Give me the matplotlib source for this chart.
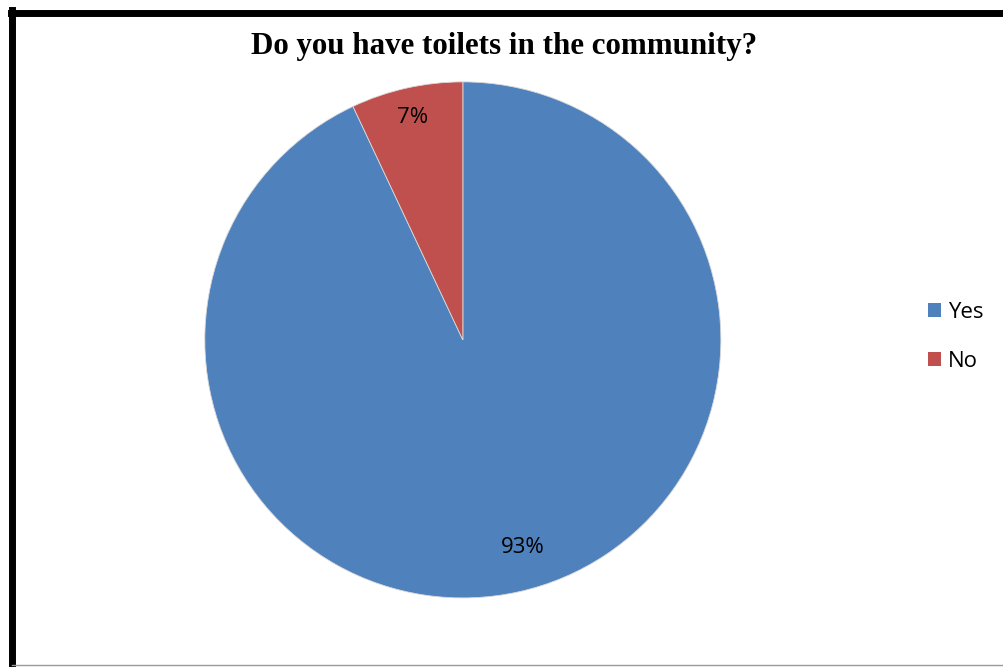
import matplotlib
matplotlib.use("Agg")
import matplotlib.pyplot as plt
import numpy as np
from matplotlib.lines import Line2D
from matplotlib.patches import Patch

categories = ["Yes", "No"]
values = [93, 7]
colors = ["#4F81BD", "#C0504D"]
title = "Do you have toilets in the community?"

fig = plt.figure(figsize=(10.04, 6.67), dpi=100)
fig.patch.set_facecolor("white")

# frame lines
fig.add_artist(Line2D([0.0105, 1.0], [0.981, 0.981], color="black", lw=5, transform=fig.transFigure))
fig.add_artist(Line2D([0.0115, 0.0115], [0.0, 0.985], color="black", lw=5, transform=fig.transFigure))
fig.add_artist(Line2D([0.012, 1.0], [0.003, 0.003], color="#999999", lw=1, transform=fig.transFigure))

ax = fig.add_axes([0.204, 0.1034, 0.514, 0.774])
wedges, texts = ax.pie(
    values, colors=colors, startangle=90, counterclock=False,
    wedgeprops=dict(edgecolor="#d9d9d9", linewidth=0.6))
ax.set_xlim(-1, 1)
ax.set_ylim(-1, 1)
ax.set_aspect("equal")
ax.axis("off")

# percentage labels (Excel-like placement)
label_radius = [0.83, 0.89]
angle_shift = [3.7, 0.0]
for w, v, r, s in zip(wedges, values, label_radius, angle_shift):
    ang = np.deg2rad((w.theta1 + w.theta2) / 2 + s)
    ax.text(r * np.cos(ang), r * np.sin(ang) - 0.006, f"{v}%", ha="center", va="center",
            fontsize=16, family="Open Sans", color="black")

fig.text(0.502, 0.93, title, ha="center", va="center", fontsize=22.3,
         fontweight="bold", family="Liberation Serif")

handles = [Patch(facecolor=c, edgecolor="none") for c in colors]
fig.legend(handles, categories, loc="center left", bbox_to_anchor=(0.904, 0.495),
           frameon=False, prop={"family": "Open Sans", "size": 16},
           handlelength=0.6, handleheight=0.6, handletextpad=0.3, labelspacing=1.25)

fig.savefig("out.png", dpi=100)
